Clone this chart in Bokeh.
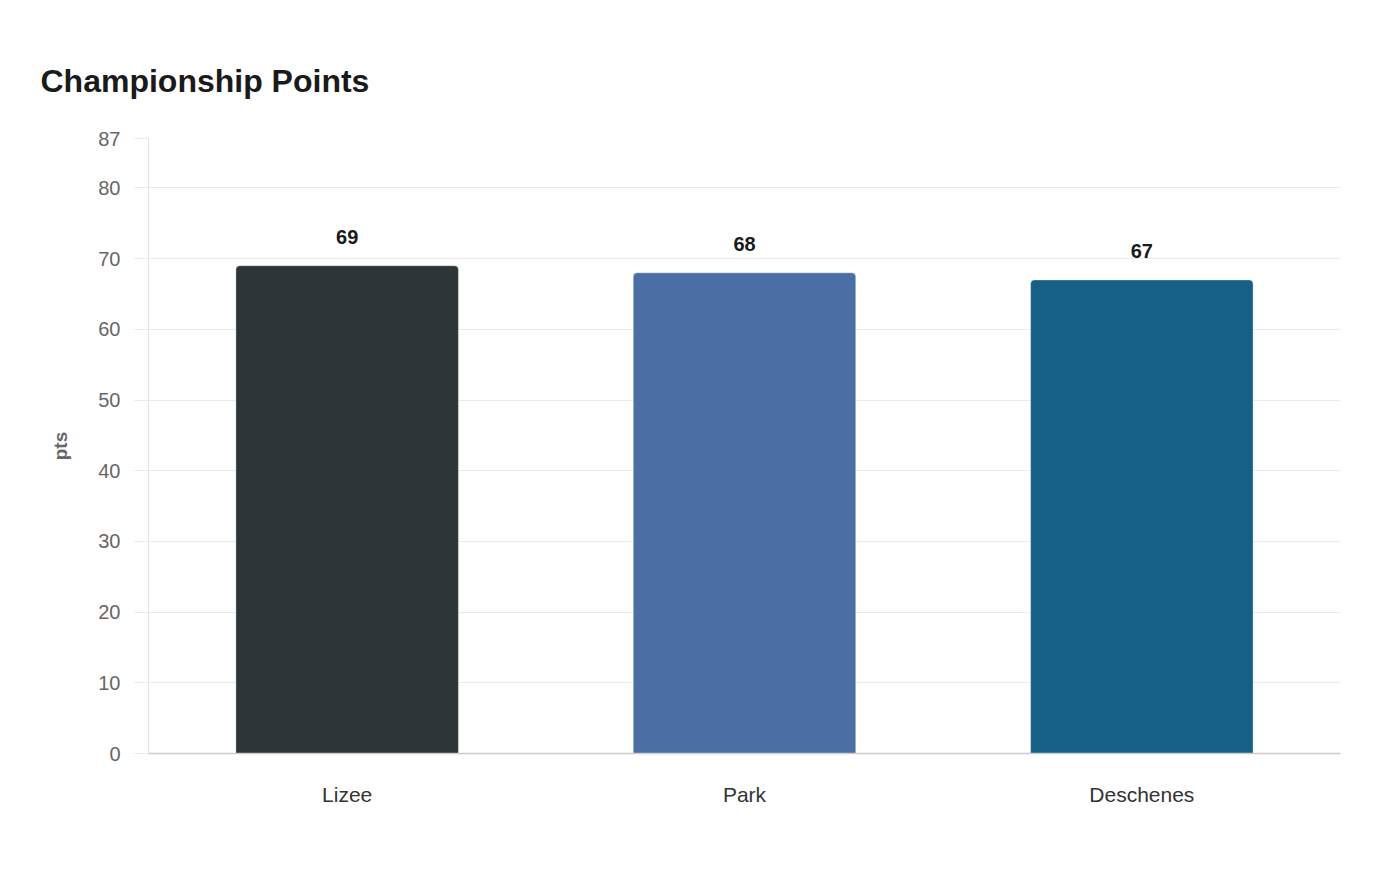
from bokeh.plotting import figure
from bokeh.models import ColumnDataSource, FixedTicker, FactorRange, Range1d
from bokeh.core.properties import value
from bokeh.embed import file_html
from bokeh.resources import INLINE

drivers = ["Lizee", "Park", "Deschenes"]
points = [69, 68, 67]
colors = ["#2d3538", "#4a6fa5", "#166088"]
y_ticks = [0, 10, 20, 30, 40, 50, 60, 70, 80, 87]
y_max = 87
title_text = "Championship Points"
y_label = "pts"

FONT = "Liberation Sans"

W, H = 1384, 864
BL, BR, BT, BB = 148, 44, 138, 111

src = ColumnDataSource(dict(x=drivers, top=points, color=colors,
                            label=[str(v) for v in points]))

p = figure(width=W, height=H, x_range=FactorRange(*drivers, range_padding=0),
           y_range=Range1d(0, y_max), output_backend="svg", toolbar_location=None,
           min_border_left=BL, min_border_right=BR, min_border_top=BT,
           min_border_bottom=BB, title=title_text)
p.outline_line_color = None
p.background_fill_color = "white"
p.border_fill_color = "white"

p.title.align = "left"
p.title.offset = 40 - BL
p.title.standoff = 80
p.title.text_font = FONT
p.title.text_font_size = "32px"
p.title.text_font_style = "bold"
p.title.text_color = "#1a1a1a"

p.vbar(x="x", top="top", width=0.56, fill_color="color", source=src,
       line_color="white", line_alpha=0.35, line_width=1,
       border_radius=[4, 4, 0, 0])

p.text(x="x", y="top", text="label", source=src, text_align="center",
       text_baseline="bottom", y_offset=-22, text_font=value(FONT),
       text_font_size="20px", text_font_style="bold", text_color="#1a1a1a")

# axes
p.yaxis.ticker = FixedTicker(ticks=y_ticks)
p.yaxis.major_tick_out = 15
p.yaxis.major_tick_in = 0
p.yaxis.minor_tick_line_color = None
p.yaxis.major_tick_line_color = "#ebebeb"
p.yaxis.axis_line_color = "#e0e0e0"
p.yaxis.major_label_text_font = FONT
p.yaxis.major_label_text_font_size = "20px"
p.yaxis.major_label_text_color = "#666666"
p.yaxis.major_label_standoff = 13
p.yaxis.axis_label = y_label
p.yaxis.axis_label_text_font = FONT
p.yaxis.axis_label_text_font_size = "19px"
p.yaxis.axis_label_text_font_style = "bold"
p.yaxis.axis_label_text_color = "#666666"
p.yaxis.axis_label_standoff = 24

p.xaxis.major_tick_line_color = None
p.xaxis.minor_tick_line_color = None
p.xaxis.axis_line_color = "#cccccc"
p.xaxis.axis_line_width = 1.5
p.xaxis.major_label_text_font = FONT
p.xaxis.major_label_text_font_size = "21px"
p.xaxis.major_label_text_color = "#333333"
p.xaxis.major_label_standoff = 23

p.xgrid.grid_line_color = None
p.ygrid.grid_line_color = "#ebebeb"
p.ygrid.grid_line_width = 1

open("out.html", "w").write(file_html(p, INLINE))
